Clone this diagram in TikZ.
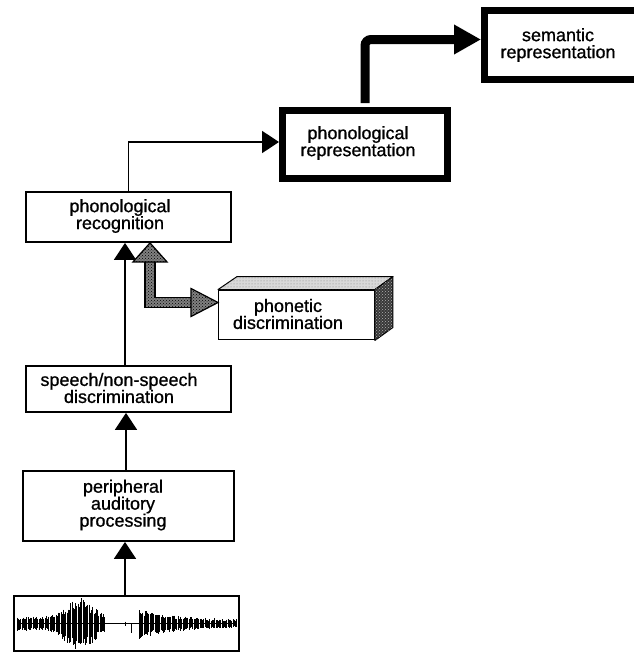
\documentclass[tikz,border=0pt]{standalone}
\usepackage{fontspec}
\setmainfont[FakeBold=0.9]{Liberation Sans}
\usetikzlibrary{arrows.meta,calc,patterns}
\begin{document}
\begin{tikzpicture}[x=1pt,y=-1pt,
  box/.style={draw=black, line width=1.8pt, fill=white, rectangle, inner sep=0pt},
  heavybox/.style={draw=black, line width=7pt, fill=white, rectangle, inner sep=0pt},
  txt/.style={align=center, inner sep=0pt, font=\fontsize{18}{17}\selectfont},
  thinarrow/.style={line width=1.8pt, -{Triangle[length=17pt,width=22pt]}},
  thickarrow/.style={line width=9pt, rounded corners=6pt, -{Triangle[length=27pt,width=28pt]}},
  hatchfill/.style={fill=black!50, postaction={pattern=crosshatch dots}, draw=black, line width=1.2pt, line join=miter}
]
\useasboundingbox (0,0) rectangle (634,653);

% boxes
\node[heavybox, minimum width=175pt, minimum height=69pt] (sem) at (572,45) {};
\node[txt] (semt) at (558,45) {semantic\\representation};

\node[heavybox, minimum width=165pt, minimum height=68pt] (rep) at (365,144.5) {};
\node[txt] (rept) at (358,143) {phonological\\representation};

\node[box, minimum width=205pt, minimum height=50pt] (rec) at (128.5,217) {};
\node[txt] (rect) at (120,216) {phonological\\recognition};

\node[box, minimum width=205pt, minimum height=46pt] (sp) at (128.5,389) {};
\node[txt] (spt) at (119,388) {speech/non-speech\\discrimination};

\node[box, minimum width=211pt, minimum height=70pt] (per) at (128.5,506) {};
\node[txt] (pert) at (123,505) {peripheral\\auditory\\processing};

\node[box, minimum width=225pt, minimum height=55pt] (wave) at (126.5,623.5) {};

% phonetic discrimination 3-D box
\node[draw=black, line width=1.4pt, fill=white, minimum width=155.5pt, minimum height=49.5pt, inner sep=0pt] (pd) at (296.5,315) {};
\fill[gray!30, draw=black, line width=1pt, line join=round, postaction={pattern=dots, pattern color=gray}]
  (pd.north west) -- ++(19,-13) -- ($(pd.north east)+(18,-13)$) -- (pd.north east) -- cycle;
\fill[black!78, draw=black, line width=1pt, line join=round, postaction={pattern=crosshatch dots, pattern color=gray!60}]
  (pd.north east) -- ++(18,-13) -- ($(pd.south east)+(18,-13)$) -- (pd.south east) -- cycle;
\node[txt] (pdt) at (288,314) {phonetic\\discrimination};

% waveform
\begin{scope}[shift={(wave.west)}]
  \draw[line width=1pt] (4,0) -- (224,0);
  \pgfmathsetseed{11}
  \foreach \i in {0,...,180}{
    \pgfmathsetmacro\xx{4+1.22*\i}
    \pgfmathsetmacro\env{(\xx<92)*(7+19*exp(-((\xx-66)/18)*((\xx-66)/18))) + (\xx>126)*(\xx<224)*(3.5+11*exp(-(\xx-126)/40))}
    \pgfmathsetmacro\up{\env*(0.55+0.45*rnd)}
    \pgfmathsetmacro\dn{\env*(0.55+0.45*rnd)*1.1}
    \draw[line width=0.9pt] (\xx,-\up) -- (\xx,\dn);
  }
  \draw[line width=1.2pt] (118,0) -- (118,9);
  \draw[line width=1pt] (112,-2) -- (112,2);
\end{scope}

% connectors
\draw[thinarrow] ([xshift=-3.5pt]per.south |- wave.north) -- ([xshift=-3.5pt]per.south);
\draw[thinarrow] ([xshift=-2.5pt]per.north) -- ([xshift=-2.5pt]sp.south);
\draw[thinarrow] ([xshift=-3.5pt]sp.north) -- ([xshift=-3.5pt]rec.south);
\draw[thinarrow] (rec.north) |- ([yshift=2.5pt]rep.west);
\draw[thickarrow, shorten <=4pt] (rep.north) |- ([yshift=5.5pt]sem.west);

% hatched two-headed arrow
\coordinate (hA) at ([xshift=21.5pt]rec.south);
\coordinate (hB) at ([yshift=12.5pt]pd.west);
\coordinate (hC) at (hA |- hB);
\draw[hatchfill] ($(hA)+(-5,18)$) -- ($(hA)+(5,18)$) -- ($(hC)+(5,-5)$) -- ($(hB)+(-26,-5)$)
  -- ($(hB)+(-26,5)$) -- ($(hC)+(-5,5)$) -- cycle;
\draw[hatchfill] (hA) -- ++(-17,19) -- ++(34,0) -- cycle;
\draw[hatchfill] (hB) -- ++(-27,-14) -- ++(0,28) -- cycle;
\end{tikzpicture}
\end{document}
